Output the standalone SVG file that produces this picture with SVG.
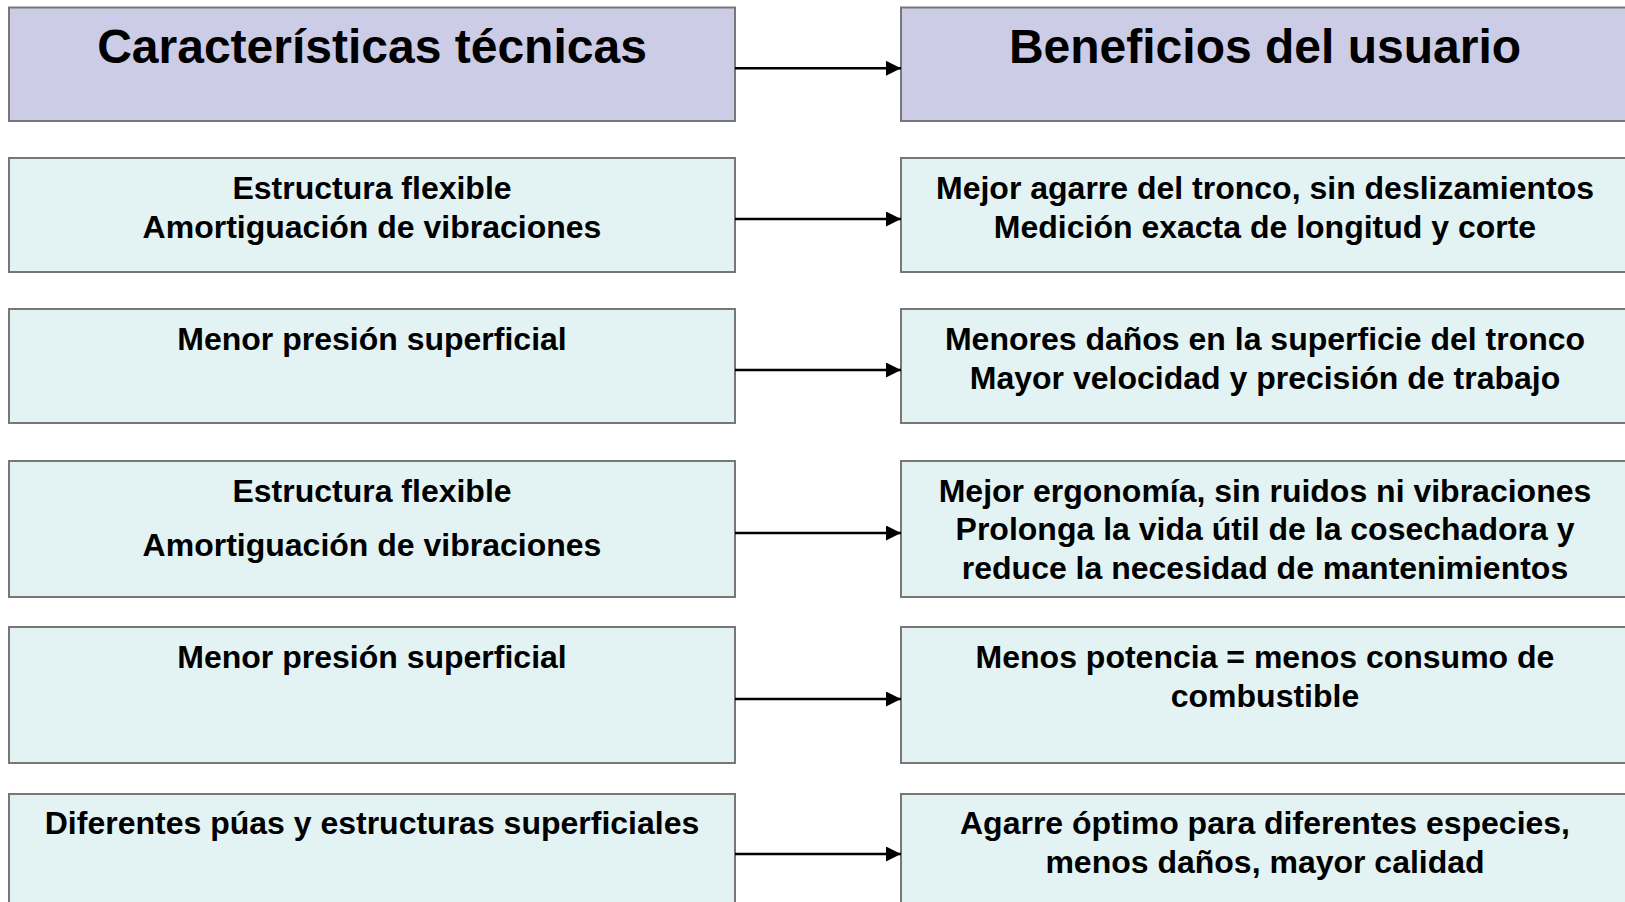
<svg xmlns="http://www.w3.org/2000/svg" width="1625" height="902" viewBox="0 0 1625 902">
<defs>
<style>
.hdr{fill:#CCCCE6;stroke:#777777;stroke-width:2}
.box{fill:#E3F3F3;stroke:#777777;stroke-width:2}
.t{font-family:"Liberation Sans",Arial,sans-serif;font-weight:bold;font-size:32px;fill:#000;text-anchor:middle}
.th{font-family:"Liberation Sans",Arial,sans-serif;font-weight:bold;font-size:48px;fill:#000;text-anchor:middle}
.c{stroke:#000;stroke-width:2.5;fill:none;marker-end:url(#ah)}
</style>
<marker id="ah" viewBox="0 0 15 15" refX="15" refY="7.5" markerWidth="15" markerHeight="15" markerUnits="userSpaceOnUse" orient="auto">
<path d="M0,0 L15,7.5 L0,15 Z" fill="#000"/>
</marker>
</defs>
<rect width="1625" height="902" fill="#FFFFFF"/>
<g id="l0"><rect class="hdr" x="9" y="7.5" width="726" height="113.5"/><text class="th" x="372" y="63">Características técnicas</text></g>
<g id="r0"><rect class="hdr" x="901" y="7.5" width="728" height="113.5"/><text class="th" x="1265" y="63">Beneficios del usuario</text></g>
<g id="l1"><rect class="box" x="9" y="158" width="726" height="114"/><text class="t" x="372" y="199">Estructura flexible</text><text class="t" x="372" y="237.5">Amortiguación de vibraciones</text></g>
<g id="r1"><rect class="box" x="901" y="158" width="728" height="114"/><text class="t" x="1265" y="199">Mejor agarre del tronco, sin deslizamientos</text><text class="t" x="1265" y="237.5">Medición exacta de longitud y corte</text></g>
<g id="l2"><rect class="box" x="9" y="309" width="726" height="114"/><text class="t" x="372" y="350">Menor presión superficial</text></g>
<g id="r2"><rect class="box" x="901" y="309" width="728" height="114"/><text class="t" x="1265" y="350">Menores daños en la superficie del tronco</text><text class="t" x="1265" y="388.5">Mayor velocidad y precisión de trabajo</text></g>
<g id="l3"><rect class="box" x="9" y="461" width="726" height="136"/><text class="t" x="372" y="501.5">Estructura flexible</text><text class="t" x="372" y="555.5">Amortiguación de vibraciones</text></g>
<g id="r3"><rect class="box" x="901" y="461" width="728" height="136"/><text class="t" x="1265" y="501.5">Mejor ergonomía, sin ruidos ni vibraciones</text><text class="t" x="1265" y="540">Prolonga la vida útil de la cosechadora y</text><text class="t" x="1265" y="578.5">reduce la necesidad de mantenimientos</text></g>
<g id="l4"><rect class="box" x="9" y="627" width="726" height="136"/><text class="t" x="372" y="668">Menor presión superficial</text></g>
<g id="r4"><rect class="box" x="901" y="627" width="728" height="136"/><text class="t" x="1265" y="668">Menos potencia = menos consumo de</text><text class="t" x="1265" y="706.5">combustible</text></g>
<g id="l5"><rect class="box" x="9" y="794" width="726" height="120"/><text class="t" x="372" y="834">Diferentes púas y estructuras superficiales</text></g>
<g id="r5"><rect class="box" x="901" y="794" width="728" height="120"/><text class="t" x="1265" y="834">Agarre óptimo para diferentes especies,</text><text class="t" x="1265" y="872.5">menos daños, mayor calidad</text></g>
<g id="connectors">
<line class="c" x1="735" y1="68.3" x2="901" y2="68.3"/>
<line class="c" x1="735" y1="219" x2="901" y2="219"/>
<line class="c" x1="735" y1="370" x2="901" y2="370"/>
<line class="c" x1="735" y1="533" x2="901" y2="533"/>
<line class="c" x1="735" y1="699" x2="901" y2="699"/>
<line class="c" x1="735" y1="854" x2="901" y2="854"/>
</g>
</svg>
